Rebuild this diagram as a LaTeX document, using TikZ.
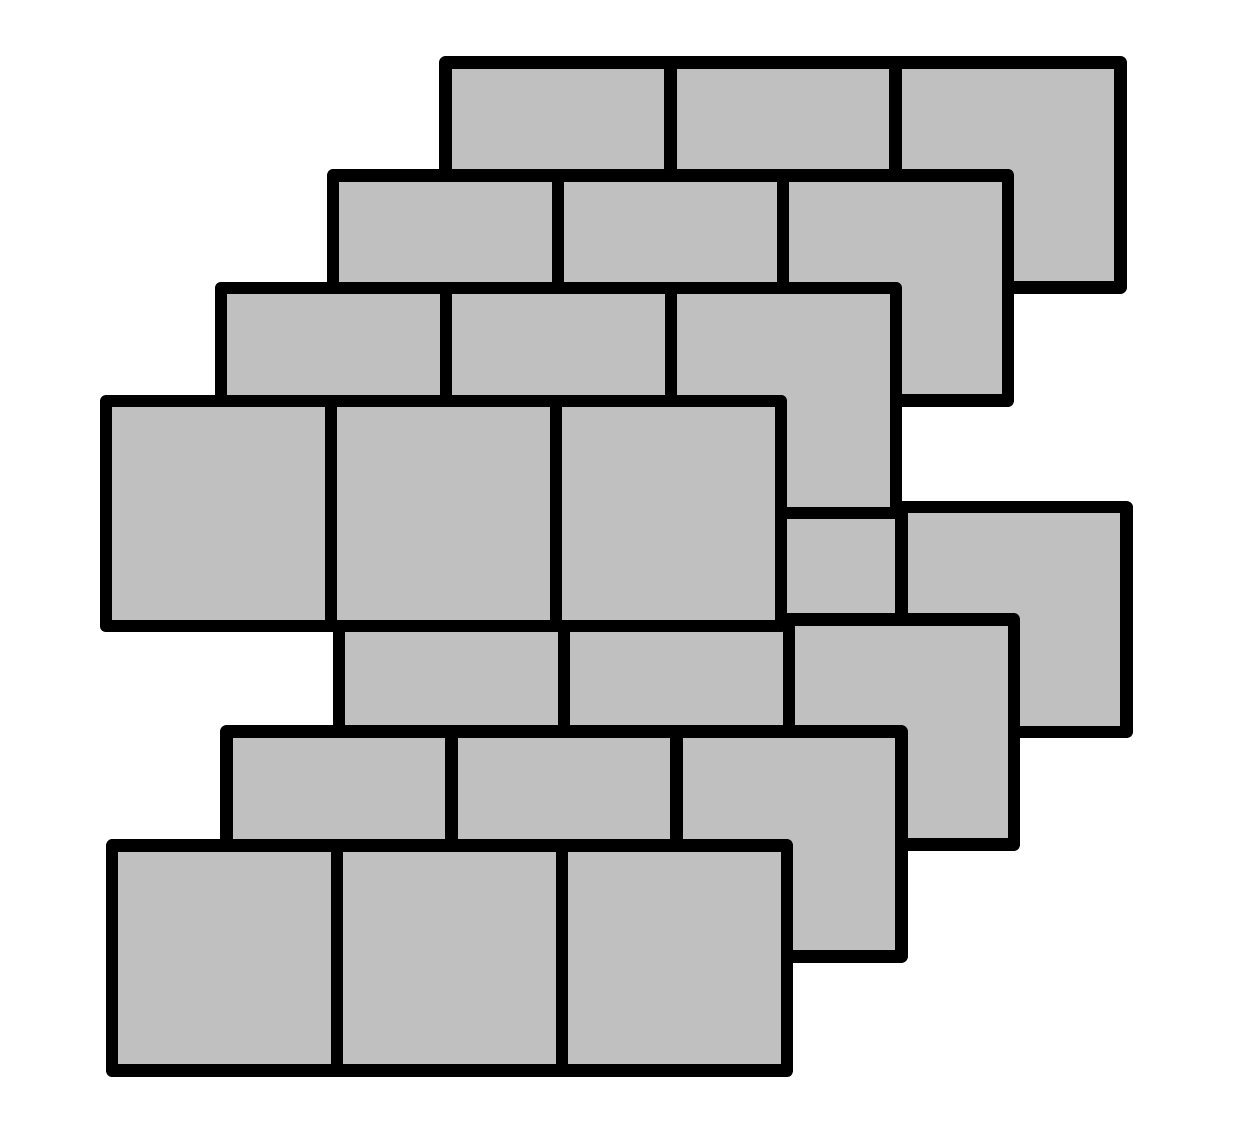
\documentclass[tikz,border=0pt]{standalone}
\definecolor{tilegray}{RGB}{192,192,192}
\tikzset{
  tilerow/.style={fill=tilegray, draw=black, line width=0.125cm, line join=round},
  tileline/.style={draw=black, line width=0.125cm, line cap=butt}
}
\begin{document}
\begin{tikzpicture}[x=0.01cm, y=-0.01cm]
  \useasboundingbox (0,0) rectangle (1240,1127);
  % bottom stack first (back to front), then top stack (back to front)
  \foreach \px/\py in {451.3/507.2, 339/619.5, 226.3/731.5, 112.2/845.7,
                       445.5/62.5, 333.2/175.3, 221/288, 106.2/401.2} {
    \path[tilerow] (\px,\py) rectangle ++(675,225);
    \draw[tileline] (\px+225,\py) -- ++(0,225);
    \draw[tileline] (\px+450,\py) -- ++(0,225);
  }
\end{tikzpicture}
\end{document}
